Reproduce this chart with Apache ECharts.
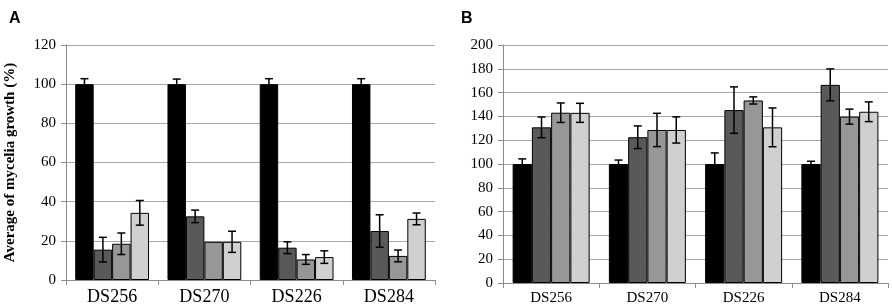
<!DOCTYPE html>
<html>
<head>
<meta charset="utf-8">
<script src="https://cdn.jsdelivr.net/npm/echarts@6/dist/echarts.min.js"></script>
<style>
  html, body { margin: 0; padding: 0; background: #fff; }
  #chart { width: 892px; height: 306px; }
</style>
</head>
<body>
<div id="chart"></div>
<script>
const categories = ['DS256', 'DS270', 'DS226', 'DS284']
const barColors = ['#000000', '#595959', '#979797', '#d0d0d0']

// panel A: mean and error (%)
const aMeans = [
  [100, 100, 100, 100],
  [15.5, 32.5, 16.5, 25],
  [18.5, 19.5, 10.5, 12.3],
  [34.3, 19.5, 11.7, 31.2],
]
const aErrors = [
  [2.8, 2.6, 2.8, 2.8],
  [6.3, 3.2, 3, 8.3],
  [5.5, 0, 2.5, 3],
  [6.3, 5.4, 3.2, 3],
]

// panel B: mean and error (%)
const bMeans = [
  [100, 100, 100, 100],
  [130.8, 122.5, 145.3, 166.5],
  [143.1, 128.6, 153.4, 139.8],
  [143, 128.6, 130.8, 143.9],
]
const bErrors = [
  [4.3, 3.3, 9.3, 2.3],
  [8.7, 9.5, 19.5, 13.4],
  [8.2, 14, 3, 6.3],
  [8, 11, 16.3, 8.3],
]

const chart = echarts.init(document.getElementById('chart'))

const serif = 'Liberation Serif'
const gridLine = '#a8a8a8'

const makeXAxis = (gridIndex, fontSize) => ({
  type: 'category',
  gridIndex,
  data: categories,
  axisLine: { lineStyle: { color: '#8c8c8c', width: 1 } },
  axisTick: { show: true, length: 5, lineStyle: { color: '#8c8c8c' } },
  axisLabel: { color: '#000', fontFamily: serif, fontSize, margin: 8 },
})

const makeYAxis = (gridIndex, max, name) => ({
  type: 'value',
  gridIndex,
  min: 0,
  max,
  interval: 20,
  name,
  nameLocation: 'middle',
  nameRotate: 90,
  nameGap: 48,
  nameTextStyle: { fontFamily: serif, fontWeight: 'bold', fontSize: 15, color: '#000' },
  axisLine: { show: true, lineStyle: { color: '#8c8c8c', width: 1 } },
  axisTick: { show: true, length: 5, lineStyle: { color: '#8c8c8c' } },
  axisLabel: { color: '#000', fontFamily: serif, fontSize: 15, margin: 10 },
  splitLine: { lineStyle: { color: gridLine, width: 1 } },
})

const barSeries = (gridIdx, means) =>
  means.map((vals, i) => ({
    type: 'bar',
    xAxisIndex: gridIdx,
    yAxisIndex: gridIdx,
    data: vals,
    barGap: '0%',
    barCategoryGap: '20%',
    itemStyle: { color: barColors[i], borderColor: '#000', borderWidth: 1 },
    silent: true,
  }))

// error bars: one item per bar -> [category, seriesIdx, low, high]
const errorData = (means, errors) => {
  const out = []
  means.forEach((vals, s) => {
    vals.forEach((v, c) => {
      if (errors[s][c] > 0) out.push([c, s, v - errors[s][c], v + errors[s][c]])
    })
  })
  return out
}

const errorSeries = (gridIdx, means, errors) => ({
  type: 'custom',
  xAxisIndex: gridIdx,
  yAxisIndex: gridIdx,
  data: errorData(means, errors),
  encode: { x: 0, y: [2, 3] },
  z: 10,
  silent: true,
  renderItem: (params, api) => {
    const c = api.value(0)
    const s = api.value(1)
    const catW = api.size([1, 0])[0]
    const barW = (catW * 0.8) / 4
    const lo = api.coord([c, api.value(2)])
    const hi = api.coord([c, api.value(3)])
    const x = lo[0] + (s - 1.5) * barW
    const cap = 4
    const style = { stroke: '#000', lineWidth: 1.5 }
    return {
      type: 'group',
      children: [
        { type: 'line', shape: { x1: x, y1: lo[1], x2: x, y2: hi[1] }, style },
        { type: 'line', shape: { x1: x - cap, y1: hi[1], x2: x + cap, y2: hi[1] }, style },
        { type: 'line', shape: { x1: x - cap, y1: lo[1], x2: x + cap, y2: lo[1] }, style },
      ],
    }
  },
})

const option = {
  animation: false,
  backgroundColor: '#fff',
  title: [
    { text: 'A', left: 4, top: 6, textStyle: { fontFamily: 'Liberation Sans', fontWeight: 'bold', fontSize: 16, color: '#000' } },
    { text: 'B', left: 456, top: 6, textStyle: { fontFamily: 'Liberation Sans', fontWeight: 'bold', fontSize: 16, color: '#000' } },
  ],
  grid: [
    { left: 66, top: 45, width: 369, height: 239 },
    { left: 503, top: 45, width: 385, height: 240 },
  ],
  xAxis: [makeXAxis(0, 18), makeXAxis(1, 15)],
  yAxis: [makeYAxis(0, 120, 'Average of mycelia growth (%)'), makeYAxis(1, 200, '')],
  series: [
    ...barSeries(0, aMeans),
    errorSeries(0, aMeans, aErrors),
    ...barSeries(1, bMeans),
    errorSeries(1, bMeans, bErrors),
  ],
}

chart.setOption(option)
</script>
</body>
</html>
